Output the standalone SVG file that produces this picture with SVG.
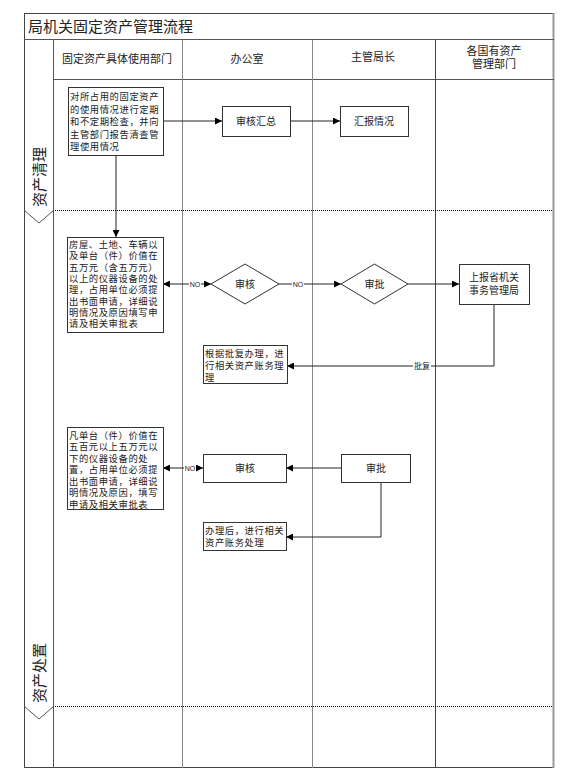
<svg xmlns="http://www.w3.org/2000/svg" width="576" height="782" viewBox="0 0 576 782">
<defs>
<marker id="ah" viewBox="0 0 10 10" refX="10" refY="5" markerWidth="7" markerHeight="7" orient="auto-start-reverse" markerUnits="userSpaceOnUse">
<path d="M0,0 L10,5 L0,10 z" fill="#000"/>
</marker>
<style>
text{font-family:"Liberation Sans","Noto Sans CJK SC",sans-serif;fill:#222}
.box{fill:#fff;stroke:#333;stroke-width:1}
.t{font-size:9.3px;letter-spacing:0.6px}
.c{font-size:10px;text-anchor:middle}
.h{font-size:11px;text-anchor:middle}
.lane{stroke:#555;stroke-width:1;fill:none}
.dot{stroke:#000;stroke-width:1;stroke-dasharray:1 1;fill:none}
.con{stroke:#222;stroke-width:1;fill:none}
.lbl{font-size:7px;text-anchor:middle}
</style>
</defs>
<rect width="576" height="782" fill="#fff"/>
<g id="frame">
<rect x="24.5" y="13.5" width="529" height="754" fill="none" stroke="#444" stroke-width="1"/>
<line x1="553.5" y1="13" x2="553.5" y2="768" stroke="#999" stroke-width="2"/>
<line x1="24" y1="39.5" x2="554" y2="39.5" class="lane"/>
<line x1="53.5" y1="79.5" x2="554" y2="79.5" class="lane"/>
<line x1="53.5" y1="40" x2="53.5" y2="768" class="lane"/>
<line x1="182.5" y1="40" x2="182.5" y2="768" stroke="#888" stroke-width="1"/>
<line x1="312.5" y1="40" x2="312.5" y2="768" stroke="#888" stroke-width="1"/>
<line x1="435.5" y1="40" x2="435.5" y2="768" stroke="#444" stroke-width="1"/>
<line x1="53" y1="210.5" x2="553" y2="210.5" class="dot"/>
<line x1="53" y1="706.5" x2="553" y2="706.5" class="dot"/>
<polyline points="24.5,210.5 39,223 53.5,210.5" fill="none" stroke="#555"/>
<polyline points="24.5,706.5 39,719 53.5,706.5" fill="none" stroke="#555"/>
<text x="28" y="32" style="font-size:15px">局机关固定资产管理流程</text>
<text x="117" y="63" class="h">固定资产具体使用部门</text>
<text x="247" y="63" class="h">办公室</text>
<text x="373" y="61" class="h">主管局长</text>
<text class="h"><tspan x="494" y="55">各国有资产</tspan><tspan x="494" y="68">管理部门</tspan></text>
<text transform="translate(45,177) rotate(-90)" style="font-size:15px;text-anchor:middle">资产清理</text>
<text transform="translate(45,673) rotate(-90)" style="font-size:15px;text-anchor:middle">资产处置</text>
</g>
<g id="connectors">
<line x1="163" y1="121" x2="222" y2="121" class="con" marker-end="url(#ah)"/>
<line x1="290" y1="121" x2="340" y2="121" class="con" marker-end="url(#ah)"/>
<line x1="116" y1="155" x2="116" y2="237" class="con" marker-end="url(#ah)"/>
<line x1="163" y1="284" x2="211" y2="284" class="con" marker-start="url(#ah)" marker-end="url(#ah)"/>
<rect x="189" y="280" width="12" height="8" fill="#fff"/>
<text x="195" y="286.5" class="lbl">NO</text>
<line x1="279" y1="284" x2="341" y2="284" class="con" marker-end="url(#ah)"/>
<rect x="292" y="280" width="12" height="8" fill="#fff"/>
<text x="298" y="286.5" class="lbl">NO</text>
<line x1="408" y1="284" x2="459" y2="284" class="con" marker-end="url(#ah)"/>
<polyline points="494,304 494,366 287,366" class="con" marker-end="url(#ah)"/>
<rect x="413" y="361" width="18" height="10" fill="#fff"/>
<text x="422" y="369" style="font-size:8px;text-anchor:middle">批复</text>
<line x1="163" y1="468" x2="203" y2="468" class="con" marker-start="url(#ah)" marker-end="url(#ah)"/>
<rect x="184" y="464" width="12" height="8" fill="#fff"/>
<text x="190" y="470.5" class="lbl">NO</text>
<line x1="341" y1="468" x2="286" y2="468" class="con" marker-end="url(#ah)"/>
<polyline points="381,482 381,537 286,537" class="con" marker-end="url(#ah)"/>
</g>
<g id="nodeA">
<rect x="68.5" y="87.5" width="95" height="68" class="box"/>
<text class="t"><tspan x="70" y="100">对所占用的固定资产</tspan><tspan x="70" y="112.5">的使用情况进行定期</tspan><tspan x="70" y="125">和不定期检查，并向</tspan><tspan x="70" y="137.5">主管部门报告清查管</tspan><tspan x="70" y="150">理使用情况</tspan></text>
</g>
<g id="nodeB">
<rect x="222.5" y="106.5" width="68" height="30" class="box"/>
<text x="256" y="125" class="c">审核汇总</text>
</g>
<g id="nodeC">
<rect x="340.5" y="106.5" width="68" height="30" class="box"/>
<text x="374" y="125" class="c">汇报情况</text>
</g>
<g id="nodeD">
<rect x="67.5" y="237.5" width="96" height="95" class="box"/>
<text class="t"><tspan x="69" y="248">房屋、土地、车辆以</tspan><tspan x="69" y="259.3">及单台（件）价值在</tspan><tspan x="69" y="270.6">五万元（含五万元）</tspan><tspan x="69" y="281.9">以上的仪器设备的处</tspan><tspan x="69" y="293.2">理，占用单位必须提</tspan><tspan x="69" y="304.5">出书面申请，详细说</tspan><tspan x="69" y="315.8">明情况及原因填写申</tspan><tspan x="69" y="327.1">请及相关审批表</tspan></text>
</g>
<g id="nodeDiamond1">
<polygon points="211,284 245,264 279,284 245,304" class="box"/>
<text x="245" y="288" class="c">审核</text>
</g>
<g id="nodeDiamond2">
<polygon points="341,284 374.5,264 408,284 374.5,304" class="box"/>
<text x="374.5" y="288" class="c">审批</text>
</g>
<g id="nodeE">
<rect x="459.5" y="264.5" width="70" height="40" class="box"/>
<text class="c"><tspan x="494" y="281">上报省机关</tspan><tspan x="494" y="294">事务管理局</tspan></text>
</g>
<g id="nodeF">
<rect x="203.5" y="345.5" width="84" height="38" class="box"/>
<text class="t"><tspan x="205" y="357">根据批复办理，进</tspan><tspan x="205" y="369">行相关资产账务理</tspan><tspan x="205" y="381">理</tspan></text>
</g>
<g id="nodeG">
<rect x="67.5" y="427.5" width="96" height="82" class="box"/>
<text class="t"><tspan x="69" y="438.5">凡单台（件）价值在</tspan><tspan x="69" y="450">五百元以上五万元以</tspan><tspan x="69" y="461.5">下的仪器设备的处</tspan><tspan x="69" y="473">置，占用单位必须提</tspan><tspan x="69" y="484.5">出书面申请，详细说</tspan><tspan x="69" y="496">明情况及原因，填写</tspan><tspan x="69" y="507.5">申请及相关审批表</tspan></text>
</g>
<g id="nodeH">
<rect x="203.5" y="454.5" width="83" height="28" class="box"/>
<text x="245" y="472" class="c">审核</text>
</g>
<g id="nodeI">
<rect x="341.5" y="454.5" width="69" height="28" class="box"/>
<text x="376" y="472" class="c">审批</text>
</g>
<g id="nodeJ">
<rect x="203.5" y="522.5" width="83" height="28" class="box"/>
<text class="t"><tspan x="205" y="534">办理后，进行相关</tspan><tspan x="205" y="546">资产账务处理</tspan></text>
</g>
</svg>
